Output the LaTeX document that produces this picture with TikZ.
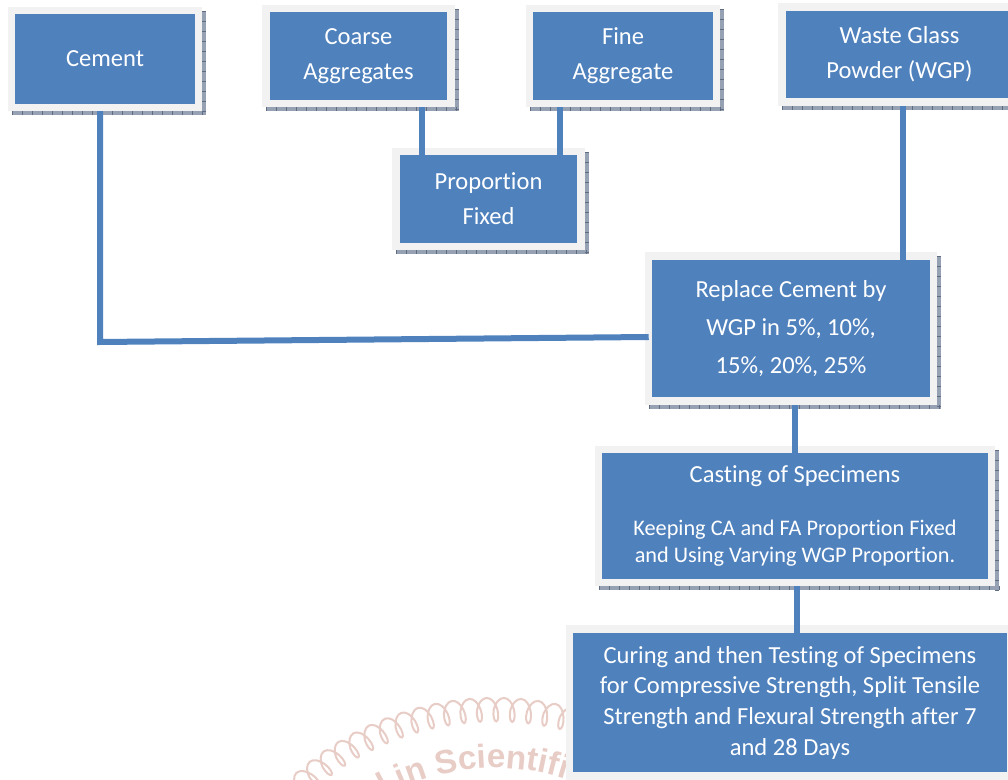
\documentclass[tikz,border=0pt]{standalone}
\usepackage{fontspec}
\setmainfont{Carlito}[Ligatures={NoCommon,NoContextual,NoRare}, Contextuals=NoAlternate]
\newfontfamily\wmfont{Liberation Sans}
\usetikzlibrary{calc,decorations.pathmorphing,decorations.text}
\definecolor{boxblue}{RGB}{79,129,189}
\definecolor{framegray}{RGB}{242,242,242}
\definecolor{shadowfill}{RGB}{150,162,180}
\definecolor{shadowtick}{RGB}{95,108,130}
\definecolor{wmpink}{RGB}{232,204,198}
\pgfdeclarelayer{background}
\pgfsetlayers{background,main}
\tikzset{
  box/.style={draw=framegray, fill=boxblue, line width=5.625pt, inner sep=0pt,
    text=white, align=center, font=\fontsize{18.4}{26.25}\selectfont},
  link/.style={draw=boxblue, line width=4.5pt},
  shadowpart/.style={draw=shadowtick, line width=2.6pt, dash pattern=on 0.75pt off 6.75pt},
}
\newcommand\boxshadow[1]{%
  \fill[shadowfill] ($(#1.south west)+(4,4)$) rectangle ($(#1.north east)+(4,4)$);
  \draw[shadowpart] ($(#1.south west)+(4,2)$) -- ($(#1.south east)+(4,2)$);
  \draw[shadowpart] ($(#1.north east)+(2,4)$) -- ($(#1.south east)+(2,4)$);
}
\begin{document}
\begin{tikzpicture}[x=0.75pt,y=-0.75pt]
\useasboundingbox (0,0) rectangle (1008,780);

% boxes
\node[box, minimum width=139.9pt, minimum height=72.4pt] (cement) at (105,59) {Cement};
\node[box, minimum width=139.1pt, minimum height=70.9pt] (coarse) at (358.5,56) {Coarse\\Aggregates};
\node[box, minimum width=139.9pt, minimum height=70.9pt] (fine) at (623,56) {Fine\\Aggregate};
\node[box, minimum width=176.6pt, minimum height=71.6pt] (wgp) at (899.5,54.5) {Waste Glass\\Powder (WGP)};
\node[box, minimum width=139.1pt, minimum height=70.9pt] (prop) at (488.5,199) {Proportion\\Fixed};
\node[box, minimum width=213.4pt, minimum height=109.1pt, font=\fontsize{18.4}{28.5}\selectfont] (replace) at (791,328.5)
  {Replace Cement by\\WGP in 5\%, 10\%,\\15\%, 20\%, 25\%};
\node[box, minimum width=294.4pt, minimum height=99.4pt, font=\fontsize{16.7}{20.25}\selectfont] (casting) at (795,516)
  {{\fontsize{18.4}{22}\selectfont Casting of Specimens}\\[19.5pt]Keeping CA and FA Proportion Fixed\\and Using Varying WGP Proportion.};
\node[box, minimum width=330.4pt, minimum height=110.6pt, font=\fontsize{18.4}{23}\selectfont] (curing) at (790,702.5)
  {Curing and then Testing of Specimens\\for Compressive Strength, Split Tensile\\Strength and Flexural Strength after 7\\and 28 Days};

% connectors
\coordinate (corner) at (100,342);
\draw[link] ($(cement.south)+(-5,0)$) -- (corner) -- ($(replace.west)+(3.75,8.5)$);
\draw[link] ($(coarse.south)+(63.5,0)$) -- ($(prop.north)+(-66.5,7.5)$);
\draw[link] ($(fine.south)+(-63,0)$) -- ($(prop.north)+(71.5,7.5)$);
\draw[link] ($(wgp.south)+(3.5,0)$) -- ($(replace.north)+(112,7.5)$);
\draw[link] ($(replace.south)+(4,0)$) -- ($(casting.north)+(0,7.5)$);
\draw[link] ($(casting.south)+(2,0)$) -- ($(curing.north)+(7,7.5)$);

\begin{pgfonlayer}{background}
  \coordinate (wc) at (495,998);
  \draw[wmpink, line width=1.5pt, decorate,
    decoration={coil, amplitude=9pt, segment length=12.5pt, aspect=0.5}]
    (wc) ++(-140:288) arc[start angle=-140, end angle=-60, radius=288];
  \path[decorate, decoration={text along path, text color=wmpink,
    text={|\wmfont\bfseries\fontsize{25}{30}\selectfont|nal in Scientific Research}}]
    (wc) ++(-128.5:230) arc[start angle=-128.5, end angle=-20, radius=230];
  \boxshadow{cement}
  \boxshadow{coarse}
  \boxshadow{fine}
  \boxshadow{wgp}
  \boxshadow{prop}
  \boxshadow{replace}
  \boxshadow{casting}
  \boxshadow{curing}
\end{pgfonlayer}
\end{tikzpicture}
\end{document}
